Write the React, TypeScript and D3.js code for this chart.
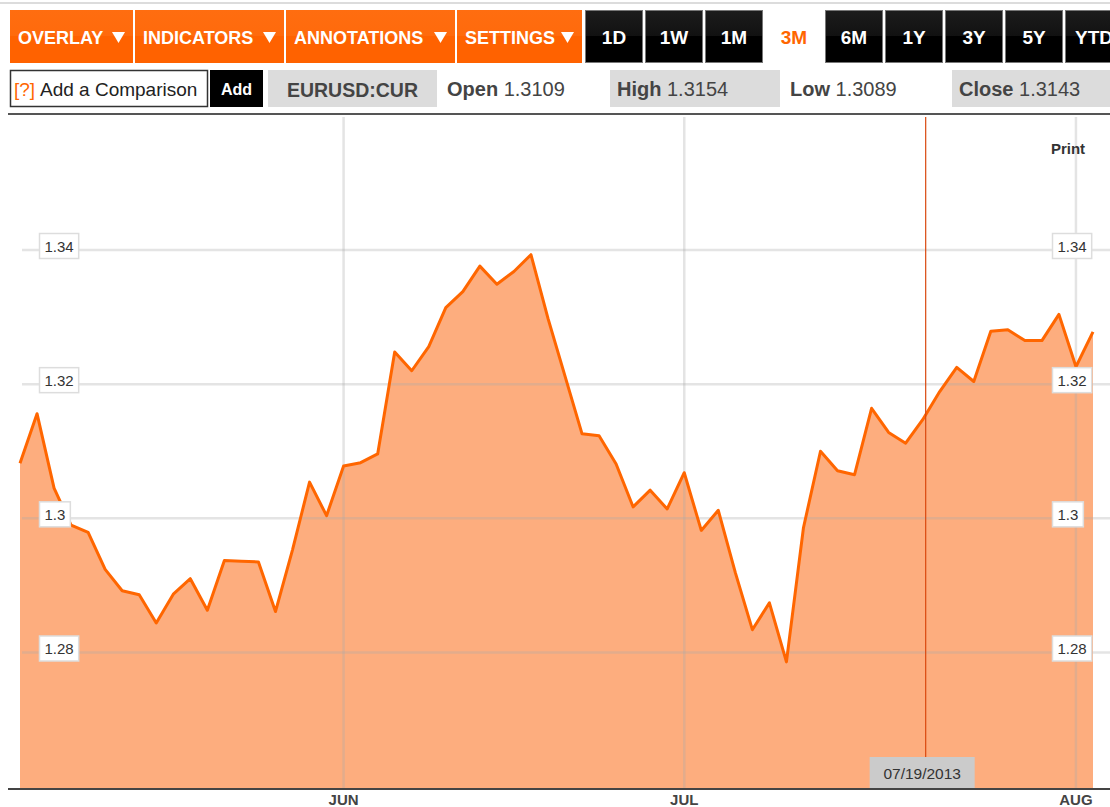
import React from "react";
import * as d3 from "d3";

// ---- data ----
const startDate = "2013-05-07";
const closeValues: number[] = [
  1.3082, 1.3156, 1.3045, 1.2990, 1.2979, 1.2924, 1.2892, 1.2886, 1.2844, 1.2887,
  1.2910, 1.2863, 1.2937, 1.2936, 1.2935, 1.2861, 1.2953, 1.3054, 1.3004, 1.3078,
  1.3083, 1.3096, 1.3248, 1.3220, 1.3256, 1.3314, 1.3338, 1.3376, 1.3349, 1.3368,
  1.3393, 1.3298, 1.3212, 1.3126, 1.3123, 1.3081, 1.3017, 1.3042, 1.3014, 1.3068,
  1.2982, 1.3012, 1.2919, 1.2834, 1.2874, 1.2786, 1.2986, 1.3100, 1.3071, 1.3065,
  1.3164, 1.3128, 1.3112, 1.3147, 1.3189, 1.3225, 1.3204, 1.3279, 1.3281, 1.3265,
  1.3265, 1.3304, 1.3226, 1.3278,
];
const yTicks: number[] = [1.28, 1.30, 1.32, 1.34];
const monthLabels: string[] = ["JAN", "FEB", "MAR", "APR", "MAY", "JUN", "JUL", "AUG", "SEP", "OCT", "NOV", "DEC"];
const menuButtons: string[] = ["OVERLAY", "INDICATORS", "ANNOTATIONS", "SETTINGS"];
const periodButtons: string[] = ["1D", "1W", "1M", "3M", "6M", "1Y", "3Y", "5Y", "YTD"];
const activePeriod = "3M";
const ticker = "EURUSD:CUR";
const quoteFields: string[] = ["Open", "High", "Low", "Close"];
const quoteValues: string[] = ["1.3109", "1.3154", "1.3089", "1.3143"];
const hoverDate = "07/19/2013";

// trading days (weekdays) starting from startDate
const parseD = d3.timeParse("%Y-%m-%d");
const dates: Date[] = (() => {
  const out: Date[] = [];
  let d = parseD(startDate)!;
  while (out.length < closeValues.length) {
    const wd = d.getDay();
    if (wd !== 0 && wd !== 6) out.push(d);
    d = d3.timeDay.offset(d, 1);
  }
  return out;
})();

// ---- layout ----
const W = 1110;
const H = 807;
const plotTop = 117;
const plotBottom = 789;
const FONT = "'Liberation Sans', Arial, Helvetica, sans-serif";
const ORANGE = "#ff6600";
const menuWidths = [123, 149, 169, 125];
const periodW = 58;

export default function App() {
  const x = d3.scaleLinear().domain([0, closeValues.length - 1]).range([20, 1093]);
  const y = d3.scaleLinear().domain([1.28, 1.34]).range([652.5, 250]);

  const area = d3
    .area<number>()
    .x((_, i) => x(i))
    .y0(plotBottom)
    .y1((d) => y(d));
  const line = d3
    .line<number>()
    .x((_, i) => x(i))
    .y((d) => y(d));

  // month ticks: first trading day of each month
  const monthTicks: { i: number; label: string }[] = [];
  dates.forEach((d, i) => {
    if (i > 0 && d.getMonth() !== dates[i - 1].getMonth()) {
      monthTicks.push({ i, label: monthLabels[d.getMonth()] });
    }
  });

  const fmtHover = d3.timeFormat("%m/%d/%Y");
  const hoverIdx = dates.findIndex((d) => fmtHover(d) === hoverDate);
  const hoverX = x(hoverIdx) + 3;

  const fmtTick = (v: number) => String(+v.toFixed(2));
  const textW = (s: string) =>
    s.split("").reduce((a, c) => a + (c === "." ? 4.17 : 8.34), 0);

  // menu button x positions
  let mx = 10;
  const menuPos = menuButtons.map((b, i) => {
    const p = { label: b, x: mx, w: menuWidths[i] };
    mx += menuWidths[i] + 2;
    return p;
  });
  const periodStart = mx + 1;

  const gridStroke = "rgba(170,170,170,0.32)";

  return (
    <svg
      width={W}
      height={H}
      style={{ position: "absolute", left: 0, top: 0, background: "#fff" }}
      fontFamily={FONT}
    >
      <defs>
        <linearGradient id="gOrange" x1="0" y1="0" x2="0" y2="1">
          <stop offset="0" stopColor="#ff6d10" />
          <stop offset="0.5" stopColor="#ff6a0c" />
          <stop offset="0.5" stopColor="#ff6200" />
          <stop offset="1" stopColor="#ff6200" />
        </linearGradient>
        <linearGradient id="gBlack" x1="0" y1="0" x2="0" y2="1">
          <stop offset="0" stopColor="#1c1c1c" />
          <stop offset="0.5" stopColor="#111" />
          <stop offset="0.5" stopColor="#000" />
          <stop offset="1" stopColor="#000" />
        </linearGradient>
      </defs>
      <rect x={0} y={0} width={W} height={H} fill="#fff" />
      <line x1={0} x2={W} y1={3} y2={3} stroke="#dcdcdc" strokeWidth={2} />

      {/* menu buttons */}
      {menuPos.map((b) => (
        <g key={b.label}>
          <rect x={b.x} y={10} width={b.w} height={53} fill="url(#gOrange)" />
          <text
            x={b.x + 8}
            y={44}
            fill="#fff"
            fontSize={18}
            fontWeight="bold"
          >
            {b.label}
          </text>
          <path
            d={`M${b.x + b.w - 21},${32} L${b.x + b.w - 8},${32} L${b.x + b.w - 14.5},${43} Z`}
            fill="#fff"
          />
        </g>
      ))}

      {/* period buttons */}
      {periodButtons.map((p, i) => {
        const bx = periodStart + i * (periodW + 2);
        const active = p === activePeriod;
        return (
          <g key={p}>
            {active ? (
              <rect x={bx} y={10} width={periodW} height={53} fill="#fff" />
            ) : (
              <rect
                x={bx + 0.5}
                y={10.5}
                width={periodW - 1}
                height={52}
                fill="url(#gBlack)"
                stroke="#777"
                strokeWidth={1}
              />
            )}
            <text
              x={bx + periodW / 2}
              y={44}
              textAnchor="middle"
              fill={active ? ORANGE : "#fff"}
              fontSize={19}
              fontWeight="bold"
            >
              {p}
            </text>
          </g>
        );
      })}

      {/* second row */}
      <rect x={10.5} y={70.5} width={197} height={36} fill="#fff" stroke="#333" strokeWidth={1.5} />
      <text x={14} y={96} fontSize={19} fill={ORANGE}>
        [?]
      </text>
      <text x={40} y={96} fontSize={19} fill="#222">
        Add a Comparison
      </text>
      <rect x={210} y={70} width={53} height={37} fill="#000" />
      <text x={236.5} y={95} textAnchor="middle" fontSize={16} fontWeight="bold" fill="#fff">
        Add
      </text>
      <rect x={268} y={70} width={169} height={37} fill="#dcdcdc" />
      <text x={352.5} y={97} textAnchor="middle" fontSize={19.5} fontWeight="bold" fill="#444">
        {ticker}
      </text>

      {quoteFields.map((f, i) => {
        const boxes = [
          { x: 440, w: 0, tx: 447 },
          { x: 610, w: 170, tx: 617 },
          { x: 782, w: 0, tx: 790 },
          { x: 952, w: 158, tx: 959 },
        ];
        const b = boxes[i];
        return (
          <g key={f}>
            {b.w > 0 && <rect x={b.x} y={70} width={b.w} height={37} fill="#dcdcdc" />}
            <text x={b.tx} y={96} fontSize={20} fill="#444">
              <tspan fontWeight="bold">{f}</tspan>
              <tspan> {quoteValues[i]}</tspan>
            </text>
          </g>
        );
      })}

      <line x1={8} x2={W} y1={114} y2={114} stroke="#555" strokeWidth={2} />

      {/* chart */}
      <path d={area(closeValues) ?? ""} fill="#fdad7e" />

      {yTicks.map((t) => (
        <line
          key={"h" + t}
          x1={22}
          x2={W}
          y1={y(t)}
          y2={y(t)}
          stroke={gridStroke}
          strokeWidth={2.5}
        />
      ))}
      {monthTicks.map((m) => (
        <line
          key={"v" + m.label}
          x1={x(m.i)}
          x2={x(m.i)}
          y1={plotTop}
          y2={plotBottom}
          stroke={gridStroke}
          strokeWidth={2.5}
        />
      ))}

      <path
        d={line(closeValues) ?? ""}
        fill="none"
        stroke={ORANGE}
        strokeWidth={3}
        strokeLinejoin="round"
      />

      {/* crosshair */}
      <line x1={hoverX} x2={hoverX} y1={plotTop} y2={757} stroke="#d9480f" strokeWidth={1.2} />
      <rect x={hoverX - 56} y={757} width={105} height={32} fill="#cbcbcb" />
      <text x={hoverX - 3.5} y={779} textAnchor="middle" fontSize={15.5} fill="#333">
        {hoverDate}
      </text>

      {/* y labels */}
      {yTicks.map((t) => {
        const s = fmtTick(t);
        const w = textW(s) + 10;
        const cy = y(t) - 4;
        return (
          <g key={"l" + t}>
            <rect x={39.5} y={cy - 12.5} width={w} height={25} fill="#fff" stroke="#ddd" strokeWidth={1.5} />
            <text x={44.5} y={cy + 5.5} fontSize={15} fill="#333">
              {s}
            </text>
            <rect x={1052.5} y={cy - 12.5} width={w} height={25} fill="#fff" stroke="#ddd" strokeWidth={1.5} />
            <text x={1057.5} y={cy + 5.5} fontSize={15} fill="#333">
              {s}
            </text>
          </g>
        );
      })}

      <text x={1068} y={154} textAnchor="middle" fontSize={15} fontWeight="bold" fill="#333">
        Print
      </text>

      {/* x axis */}
      <line x1={8} x2={W} y1={plotBottom} y2={plotBottom} stroke="#444" strokeWidth={2} />
      {monthTicks.map((m) => (
        <text
          key={"t" + m.label}
          x={x(m.i)}
          y={805}
          textAnchor="middle"
          fontSize={15}
          fontWeight="bold"
          fill="#444"
        >
          {m.label}
        </text>
      ))}
    </svg>
  );
}
